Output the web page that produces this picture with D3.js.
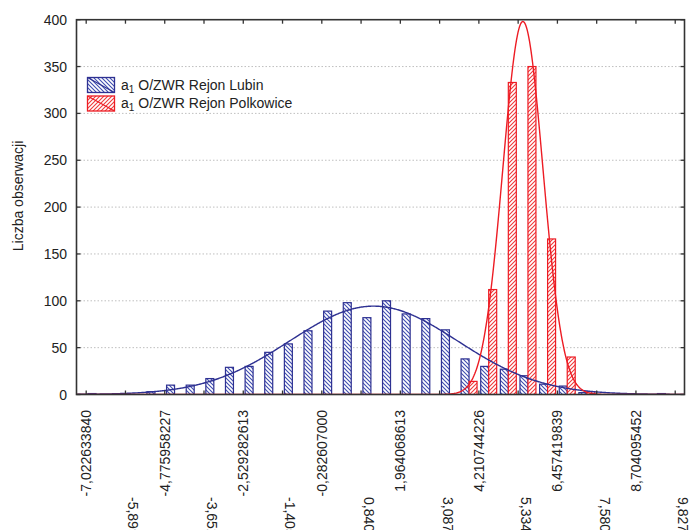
<!DOCTYPE html>
<html>
<head>
<meta charset="utf-8">
<script src="https://cdn.jsdelivr.net/npm/d3@7"></script>
<style>
  html, body { margin: 0; padding: 0; background: #fff; }
  svg { display: block; }
  text { font-family: "Liberation Sans", Arial, sans-serif; fill: #222; }
</style>
</head>
<body>
<svg id="chart" width="692" height="530"></svg>
<script>
// ---------------- data ----------------
const seriesNames = ["a1 O/ZWR Rejon Lubin", "a1 O/ZWR Rejon Polkowice"];
const binStart = -7.022633840;
const binWidth = 0.56166890325;
// counts per class (30 classes starting at binStart)
const lubinCounts = [1,0,0,3,10,10,17,29,30,45,54,68,89,98,82,100,86,81,69,38,30,27,20,11,9,2,0,0,0,1];
const polkowiceCounts = [0,0,0,0,0,0,0,0,0,0,0,0,0,0,0,0,0,0,0,14,112,333,350,166,40,3,0,0,0,0];
// fitted normal distribution parameters (mean, standard deviation)
const lubinFit = [1.2, 2.4];
const polkowiceFit = [5.47, 0.573];
const xTickValues = [-7.022633840,-5.899296034,-4.775958227,-3.652620420,-2.529282613,-1.405944807,-0.282607000,0.840730807,1.964068613,3.087406420,4.210744226,5.334082033,6.457419839,7.580757646,8.704095452,9.827433259];
const xTickLabels = ["-7,022633840","-5,899296034","-4,775958227","-3,652620420","-2,529282613","-1,405944807","-0,282607000","0,840730807","1,964068613","3,087406420","4,210744226","5,334082033","6,457419839","7,580757646","8,704095452","9,827433259"];
const yTickValues = [0,50,100,150,200,250,300,350,400];
const yLabel = "Liczba obserwacji";

// ---------------- layout ----------------
const plot = {left: 76.5, right: 684.5, top: 19.7, bottom: 394.5};
const blue = "#2e3192", red = "#ed1c24";
const svg = d3.select("#chart");

const x = d3.scaleLinear().domain([-7.3, 10.093]).range([plot.left, plot.right]);
const y = d3.scaleLinear().domain([0, 400]).range([plot.bottom, plot.top]);

const defs = svg.append("defs");
defs.append("clipPath").attr("id", "clip").append("rect")
  .attr("x", plot.left).attr("y", plot.top)
  .attr("width", plot.right - plot.left).attr("height", plot.bottom - plot.top);

function hatch(id, color, dir) {
  const p = defs.append("pattern").attr("id", id)
    .attr("patternUnits", "userSpaceOnUse").attr("width", 4).attr("height", 4);
  p.append("rect").attr("width", 4).attr("height", 4).attr("fill", "#fff");
  const d = dir === "back"
    ? "M-1,-1 L5,5 M-1,3 L1,5 M3,-1 L5,1"
    : "M-1,5 L5,-1 M-1,1 L1,-1 M3,5 L5,3";
  p.append("path").attr("d", d).attr("stroke", color).attr("stroke-width", 1.1);
}
hatch("hBlue", "#3f4db0", "back");
hatch("hRed", "#f03a3a", "fwd");

// grid lines
svg.append("g").selectAll("line")
  .data(yTickValues.filter(v => v > 0 && v < 400))
  .join("line")
  .attr("x1", plot.left).attr("x2", plot.right)
  .attr("y1", d => y(d)).attr("y2", d => y(d))
  .attr("stroke", "#b8b8b8").attr("stroke-width", 0.9).attr("stroke-dasharray", "1.5,2");

// bars
const series = [
  {key: "lubin", counts: lubinCounts, fill: "url(#hBlue)", stroke: blue},
  {key: "polk", counts: polkowiceCounts, fill: "url(#hRed)", stroke: red}
];
const inner = d3.scaleBand().domain(series.map(s => s.key)).paddingInner(0).paddingOuter(0.23);
const gBars = svg.append("g").attr("clip-path", "url(#clip)");
series.forEach(s => {
  const data = s.counts.map((c, j) => ({j, c})).filter(d => d.c > 0);
  gBars.append("g").selectAll("rect").data(data).join("rect")
    .attr("x", d => {
      const x0 = x(binStart + d.j * binWidth), x1 = x(binStart + (d.j + 1) * binWidth);
      inner.range([x0, x1]);
      return inner(s.key);
    })
    .attr("width", d => {
      const x0 = x(binStart + d.j * binWidth), x1 = x(binStart + (d.j + 1) * binWidth);
      inner.range([x0, x1]);
      return inner.bandwidth();
    })
    .attr("y", d => y(d.c))
    .attr("height", d => y(0) - y(d.c))
    .attr("fill", s.fill)
    .attr("stroke", s.stroke)
    .attr("stroke-width", 1.2);
});

// fitted normal curves
function normalCurve(counts, fit) {
  const n = d3.sum(counts);
  const [m, sd] = fit;
  const xs = d3.range(0, 801).map(i => x.domain()[0] + (x.domain()[1] - x.domain()[0]) * i / 800);
  return xs.map(v => [v, n * binWidth * Math.exp(-0.5 * ((v - m) / sd) ** 2) / (sd * Math.sqrt(2 * Math.PI))]);
}
const line = d3.line().x(d => x(d[0])).y(d => y(d[1]));
const gCurves = svg.append("g").attr("clip-path", "url(#clip)");
gCurves.append("path").attr("d", line(normalCurve(lubinCounts, lubinFit)))
  .attr("fill", "none").attr("stroke", blue).attr("stroke-width", 1.4);
gCurves.append("path").attr("d", line(normalCurve(polkowiceCounts, polkowiceFit)))
  .attr("fill", "none").attr("stroke", red).attr("stroke-width", 1.4);

// frame
svg.append("rect")
  .attr("x", plot.left).attr("y", plot.top)
  .attr("width", plot.right - plot.left).attr("height", plot.bottom - plot.top)
  .attr("fill", "none").attr("stroke", "#333").attr("stroke-width", 1.6);

// ticks (inward on all four sides)
const tickLen = 4;
const gT = svg.append("g").attr("stroke", "#333").attr("stroke-width", 1.3);
xTickValues.forEach(v => {
  gT.append("line").attr("x1", x(v)).attr("x2", x(v)).attr("y1", plot.bottom).attr("y2", plot.bottom - tickLen);
  gT.append("line").attr("x1", x(v)).attr("x2", x(v)).attr("y1", plot.top).attr("y2", plot.top + tickLen);
});
yTickValues.forEach(v => {
  gT.append("line").attr("x1", plot.left).attr("x2", plot.left + tickLen).attr("y1", y(v)).attr("y2", y(v));
  gT.append("line").attr("x1", plot.right).attr("x2", plot.right - tickLen).attr("y1", y(v)).attr("y2", y(v));
});

// y tick labels
svg.append("g").selectAll("text").data(yTickValues).join("text")
  .attr("x", 67).attr("y", d => y(d)).attr("dy", "0.36em")
  .attr("text-anchor", "end").attr("font-size", 14)
  .text(d => d);

// x tick labels (staggered)
const gX = svg.append("g");
xTickValues.forEach((v, i) => {
  if (i % 2 === 0) {
    gX.append("text")
      .attr("transform", `translate(${x(v)},410) rotate(-90)`)
      .attr("dy", "0.36em").attr("text-anchor", "end").attr("font-size", 14)
      .text(xTickLabels[i]);
  } else {
    gX.append("text")
      .attr("transform", `translate(${x(v) + 8},497) rotate(90)`)
      .attr("dy", "0.36em").attr("text-anchor", "start").attr("font-size", 14)
      .text(xTickLabels[i]);
  }
});

// y axis title
svg.append("text")
  .attr("transform", "translate(23,196) rotate(-90)")
  .attr("text-anchor", "middle").attr("font-size", 14)
  .text(yLabel);

// legend
const legend = svg.append("g");
const legItems = [
  {name: seriesNames[0], fill: "url(#hBlue)", stroke: blue},
  {name: seriesNames[1], fill: "url(#hRed)", stroke: red}
];
legItems.forEach((it, i) => {
  const ly = 77.5 + i * 18.5;
  legend.append("rect").attr("x", 87.5).attr("y", ly).attr("width", 27).attr("height", 15)
    .attr("fill", it.fill).attr("stroke", it.stroke).attr("stroke-width", 1.3);
  legend.append("line").attr("x1", 87.5).attr("y1", ly).attr("x2", 114.5).attr("y2", ly + 15)
    .attr("stroke", it.stroke).attr("stroke-width", 1.2);
  const t = legend.append("text").attr("x", 121).attr("y", ly + 12).attr("font-size", 14);
  const rest = it.name.slice(2);
  t.append("tspan").text("a");
  t.append("tspan").attr("font-size", 10).attr("dy", 3).text("1");
  t.append("tspan").attr("dy", -3).text(rest);
});
</script>
</body>
</html>
